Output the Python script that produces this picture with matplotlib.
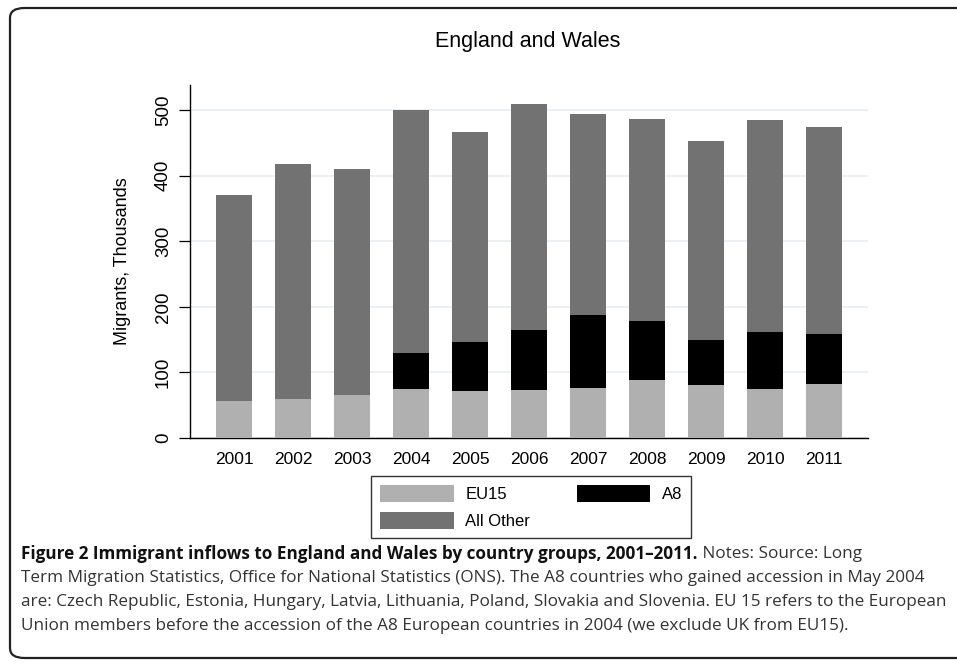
import numpy as np
import matplotlib
matplotlib.use("Agg")
from matplotlib import pyplot as plt
from matplotlib.patches import FancyBboxPatch

# data (thousands)
years = ["2001", "2002", "2003", "2004", "2005", "2006", "2007", "2008", "2009", "2010", "2011"]
eu15 = [56, 59, 65, 75, 71, 73, 76, 89, 81, 74, 82]
a8 = [0, 0, 0, 54, 76, 92, 111, 89, 68, 87, 77]
total = [371, 418, 410, 500, 466, 509, 494, 486, 453, 484, 474]

yticks = [0, 100, 200, 300, 400, 500]
title = "England and Wales"
ylabel = "Migrants, Thousands"
cap_bold = "Figure 2 Immigrant inflows to England and Wales by country groups, 2001\u20132011."
cap_lines = [" Notes: Source: Long",
             "Term Migration Statistics, Office for National Statistics (ONS). The A8 countries who gained accession in May 2004",
             "are: Czech Republic, Estonia, Hungary, Latvia, Lithuania, Poland, Slovakia and Slovenia. EU 15 refers to the European",
             "Union members before the accession of the A8 European countries in 2004 (we exclude UK from EU15)."]

W, H = 957, 664
plt.rcParams['font.family'] = ['Liberation Sans', 'DejaVu Sans']
fig = plt.figure(figsize=(W / 100, H / 100), dpi=100)

ax = fig.add_axes([190 / W, 1 - 438 / H, (868 - 190) / W, (438 - 85) / H])
x = np.arange(len(years))
other = np.array(total) - np.array(eu15) - np.array(a8)
bot2 = np.array(eu15) + np.array(a8)
b1 = ax.bar(x, eu15, width=0.61, color="#b0b0b0", label="EU15", zorder=3)
b2 = ax.bar(x, a8, width=0.61, bottom=eu15, color="#000000", label="A8", zorder=3)
b3 = ax.bar(x, other, width=0.61, bottom=bot2, color="#727272", label="All Other", zorder=3)

ax.set_xlim(-0.746, len(years) - 1 + 0.746)
ax.set_ylim(0, 538)
ax.set_yticks(yticks)
ax.set_yticklabels([str(v) for v in yticks], rotation=90, va="center", fontsize=13.5)
ax.set_xticks(x)
ax.set_xticklabels(years, fontsize=12.5)
ax.tick_params(axis="x", length=0, pad=10)
ax.tick_params(axis="y", length=8, width=0.9, pad=5)
for s in ["top", "right"]:
    ax.spines[s].set_visible(False)
ax.spines["left"].set_linewidth(1.0)
ax.spines["bottom"].set_linewidth(1.0)
ax.yaxis.grid(True, color="#e6eef1", linewidth=1.2, zorder=0)
ax.set_axisbelow(True)
ax.set_ylabel(ylabel, fontsize=13, labelpad=17)

fig.text(528 / W, 1 - 42 / H, title, ha="center", va="center", fontsize=15.5)

leg = fig.legend([b1, b3, b2], ["EU15", "All Other", "A8"], loc="upper left",
                 bbox_to_anchor=(371 / W, 1 - 476 / H), ncol=2, borderaxespad=0,
                 fontsize=12, frameon=True, fancybox=False, edgecolor="black",
                 handlelength=4.4, handleheight=1.15, columnspacing=2.8,
                 borderpad=0.55, labelspacing=0.6, handletextpad=0.7)
leg.get_frame().set_linewidth(1.0)

# outer rounded frame
frame = FancyBboxPatch((10 / W, 6 / H), 1.2, 1 - 14 / H, boxstyle="round,pad=0,rounding_size=0.015",
                       transform=fig.transFigure, fill=False, edgecolor="#222222", linewidth=1.6)
fig.patches.append(frame)

# caption, sized so the widest line spans the same width as in the reference
cap_font = ['Open Sans', 'DejaVu Sans']
cap_x = 21 / W
ys = [554, 578, 602, 626]
fig.canvas.draw()
probe = fig.text(0, 0, cap_lines[2], fontsize=12, family=cap_font)
fig.canvas.draw()
cap_size = 12 * 922 / probe.get_window_extent().width
probe.remove()

tb = fig.text(cap_x, 1 - ys[0] / H, cap_bold, fontsize=cap_size, fontweight="bold", family=cap_font,
              va="center", ha="left", color="#111111")
fig.canvas.draw()
bb = tb.get_window_extent()
fig.text(bb.x1 / W, 1 - ys[0] / H, cap_lines[0], fontsize=cap_size, family=cap_font, va="center",
         ha="left", color="#333333")
for line, yy in zip(cap_lines[1:], ys[1:]):
    fig.text(cap_x, 1 - yy / H, line, fontsize=cap_size, family=cap_font, va="center", ha="left",
             color="#333333")

fig.savefig("out.png", dpi=100)
